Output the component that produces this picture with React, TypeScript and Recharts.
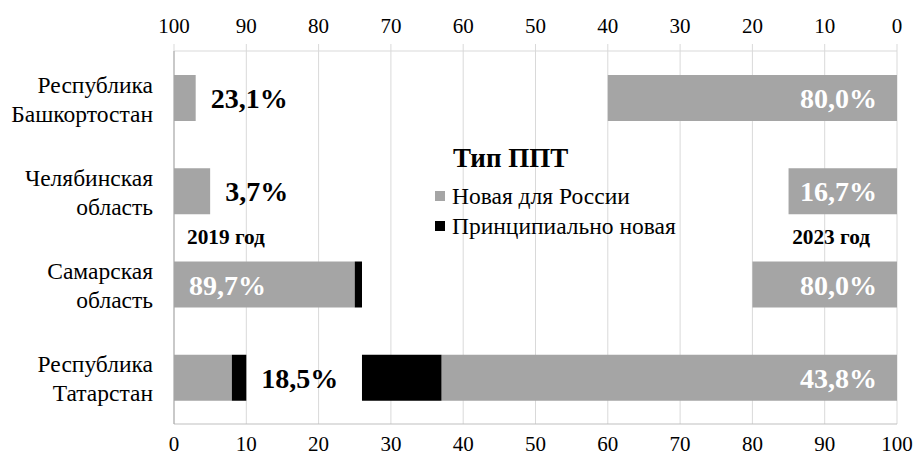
import React from 'react';
import { BarChart, Bar, XAxis, YAxis, CartesianGrid, Legend, LabelList, Customized } from 'recharts';

const categories = ['Республика Башкортостан', 'Челябинская область', 'Самарская область', 'Республика Татарстан'];
const new2019 = [3, 5, 25, 8];
const fundamental2019 = [0, 0, 1, 2];
const new2023 = [40, 15, 20, 63];
const fundamental2023 = [0, 0, 0, 11];
const labels2019 = ['23,1%', '3,7%', '89,7%', '18,5%'];
const labels2023 = ['80,0%', '16,7%', '80,0%', '43,8%'];
const axisTicks = [0, 10, 20, 30, 40, 50, 60, 70, 80, 90, 100];
const seriesNames = ['Новая для России', 'Принципиально новая'];
const legendTitle = 'Тип ППТ';
const yearNotes = ['2019 год', '2023 год'];

const FONT = "'Liberation Serif', 'Times New Roman', serif";
const GREY = '#a5a5a5';
const WIDTH = 914;
const HEIGHT = 456;
const MARGIN = { top: 0, right: 17, bottom: 0, left: 0 };
const Y_AXIS_WIDTH = 174;
const TOP_AXIS_HEIGHT = 51;
const BOTTOM_AXIS_HEIGHT = 32;

const data = categories.map((name, i) => ({
  name,
  n19: new2019[i],
  f19: fundamental2019[i],
  n23: new2023[i],
  f23: fundamental2023[i],
}));

// two-line category labels, split at the first space
const CategoryTick = (props: any) => {
  const { x, y, payload } = props;
  const text: string = payload.value;
  const cut = text.indexOf(' ');
  const lines = [text.slice(0, cut), text.slice(cut + 1)];
  return (
    <text x={x} y={y} textAnchor="end" fontFamily={FONT} fontSize={23.5} fill="#000">
      <tspan x={x} dy={-5}>{lines[0]}</tspan>
      <tspan x={x} dy={29}>{lines[1]}</tspan>
    </text>
  );
};

const box = (props: any) => {
  const vb = props.viewBox && props.viewBox.width !== undefined ? props.viewBox : props;
  const x = Number(vb.x);
  const w = Number(vb.width);
  return { left: Math.min(x, x + w), right: Math.max(x, x + w), w: Math.abs(w), y: Number(vb.y), h: Number(vb.height) };
};

const label2019 = (props: any) => {
  const i = props.index;
  const b = box(props);
  const total = new2019[i] + fundamental2019[i];
  const inside = total >= 20;
  const tx = inside ? b.left + 15 : b.left + (b.w * total) / new2019[i] + 15;
  return (
    <text x={tx} y={b.y + b.h / 2} dy={10} fill={inside ? '#fff' : '#000'}
      fontFamily={FONT} fontSize={28} fontWeight={700}>
      {labels2019[i]}
    </text>
  );
};

const label2023 = (props: any) => {
  const i = props.index;
  const b = box(props);
  return (
    <text x={b.right - 20} y={b.y + b.h / 2} dy={10} textAnchor="end" fill="#fff"
      fontFamily={FONT} fontSize={28} fontWeight={700}>
      {labels2023[i]}
    </text>
  );
};

const renderLegend = (props: any) => {
  const seen = new Set<string>();
  const items = (props.payload || []).filter((p: any) => {
    if (p.type === 'none' || seen.has(p.value)) return false;
    seen.add(p.value);
    return true;
  });
  return (
    <div style={{ fontFamily: FONT, color: '#000', whiteSpace: 'nowrap' }}>
      <div style={{ fontWeight: 700, fontSize: 27, lineHeight: '30px', paddingLeft: 18 }}>{legendTitle}</div>
      {items.map((p: any, k: number) => (
        <div key={p.value} style={{ display: 'flex', alignItems: 'center', fontSize: 23.5, lineHeight: '30px', marginTop: k === 0 ? 8 : 0 }}>
          <span style={{ display: 'inline-block', width: 10, height: 10, background: p.color, marginRight: 7 }} />
          {p.value}
        </div>
      ))}
    </div>
  );
};

const YearNotes = () => {
  const plotLeft = MARGIN.left + Y_AXIS_WIDTH;
  const plotRight = WIDTH - MARGIN.right;
  const midY = TOP_AXIS_HEIGHT + (HEIGHT - TOP_AXIS_HEIGHT - BOTTOM_AXIS_HEIGHT) / 2;
  return (
    <g fontFamily={FONT} fontWeight={700} fontSize={21.3} fill="#000">
      <text x={plotLeft + 13} y={midY} dy={6}>{yearNotes[0]}</text>
      <text x={plotRight - 27} y={midY} dy={6} textAnchor="end">{yearNotes[1]}</text>
    </g>
  );
};

export default function App() {
  return (
    <div style={{ position: 'absolute', left: 0, top: 0, width: WIDTH, height: HEIGHT, background: '#fff' }}>
      <BarChart width={WIDTH} height={HEIGHT} data={data} layout="vertical" margin={MARGIN}>
        <CartesianGrid horizontal={false} stroke="#d9d9d9" xAxisId="b" yAxisId="l" />
        <XAxis xAxisId="b" type="number" orientation="bottom" domain={[0, 100]} ticks={axisTicks}
          height={BOTTOM_AXIS_HEIGHT} tickLine={false} tickSize={0} tickMargin={12}
          axisLine={{ stroke: '#bfbfbf' }} interval={0}
          tick={{ fill: '#000', fontSize: 21, fontFamily: FONT }} />
        <XAxis xAxisId="t" type="number" orientation="top" reversed domain={[0, 100]} ticks={axisTicks}
          height={TOP_AXIS_HEIGHT} tickSize={7} tickMargin={11} interval={0}
          axisLine={{ stroke: '#d9d9d9' }} tickLine={{ stroke: '#d9d9d9' }}
          tick={{ fill: '#000', fontSize: 21, fontFamily: FONT }} />
        <YAxis yAxisId="l" type="category" dataKey="name" width={Y_AXIS_WIDTH}
          axisLine={{ stroke: '#a6a6a6' }} tickLine={false} tickSize={0} tickMargin={21}
          tick={<CategoryTick />} interval={0} />
        <YAxis yAxisId="r" type="category" dataKey="name" hide />
        <Legend layout="vertical" align="center" verticalAlign="middle" content={renderLegend}
          wrapperStyle={{ left: 435, top: 143, width: 'auto', height: 'auto' }} />
        <Bar dataKey="n19" stackId="y19" xAxisId="b" yAxisId="l" fill={GREY} name={seriesNames[0]}
          barSize={46} isAnimationActive={false}>
          <LabelList dataKey="n19" content={label2019} />
        </Bar>
        <Bar dataKey="f19" stackId="y19" xAxisId="b" yAxisId="l" fill="#000" name={seriesNames[1]}
          barSize={46} isAnimationActive={false} />
        <Bar dataKey="n23" stackId="y23" xAxisId="t" yAxisId="r" fill={GREY} name={seriesNames[0]}
          legendType="none" barSize={46} isAnimationActive={false}>
          <LabelList dataKey="n23" content={label2023} />
        </Bar>
        <Bar dataKey="f23" stackId="y23" xAxisId="t" yAxisId="r" fill="#000" name={seriesNames[1]}
          legendType="none" barSize={46} isAnimationActive={false} />
        <Customized component={<YearNotes />} />
      </BarChart>
    </div>
  );
}
